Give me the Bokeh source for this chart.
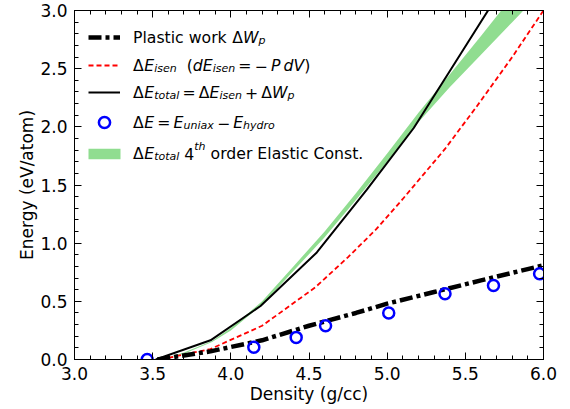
from bokeh.plotting import figure
from bokeh.models import (Range1d, LinearAxis, SingleIntervalTicker, PrintfTickFormatter,
                          Legend, LegendItem, Label, CustomLabelingPolicy)
from bokeh.embed import file_html
from bokeh.resources import INLINE

# ---------------- data ----------------
circle_density = [3.465, 4.147, 4.418, 4.606, 5.01, 5.37, 5.68, 5.975]
circle_energy = [0.0, 0.106, 0.19, 0.29, 0.40, 0.565, 0.636, 0.737]

plastic_density = [3.53, 3.87, 4.2, 4.5, 4.8, 5.0, 5.3, 5.6, 6.0]
plastic_energy = [0.0, 0.07, 0.165, 0.29, 0.40, 0.48, 0.58, 0.68, 0.81]

isen_density = [3.55, 3.87, 4.2, 4.54, 4.75, 4.93, 5.1, 5.37, 5.57, 5.8, 6.0]
isen_energy = [0.0, 0.09, 0.29, 0.62, 0.88, 1.12, 1.38, 1.81, 2.17, 2.6, 3.0]

total_density = [3.52, 3.87, 4.19, 4.55, 4.87, 5.17, 5.41, 5.65]
total_energy = [0.0, 0.165, 0.46, 0.92, 1.46, 1.99, 2.5, 3.01]

elastic_density = [3.55, 3.7, 3.88, 4.0, 4.2, 4.4, 4.6, 4.8, 5.0, 5.2, 5.4, 5.6, 5.8, 6.0]
elastic_high = [0.0, 0.06, 0.16, 0.27, 0.50, 0.80, 1.10, 1.43, 1.77, 2.12, 2.45, 2.78, 3.12, 3.45]
elastic_low = [0.0, 0.05, 0.15, 0.25, 0.47, 0.76, 1.05, 1.37, 1.70, 2.04, 2.34, 2.62, 2.90, 3.18]

x_label = "Density (g/cc)"
y_label = "Energy (eV/atom)"

# ---------------- layout ----------------
FONT = "DejaVu Sans"
W, H = 570, 409
FL, FT, FR, FB = 74, 10, 543, 359

p = figure(width=W, height=H, output_backend="svg", toolbar_location=None,
           x_range=Range1d(3.0, 6.0), y_range=Range1d(0.0, 3.0),
           min_border_left=FL, min_border_top=FT, min_border_right=W - FR,
           min_border_bottom=H - FB,
           x_axis_label=x_label, y_axis_label=y_label)
p.xgrid.visible = False
p.ygrid.visible = False
p.outline_line_color = "black"
p.background_fill_color = "white"
p.border_fill_color = "white"

hide_all = CustomLabelingPolicy(code="for (const i of [...indices]) { indices.unset(i) }\nreturn indices")


def style_axis(ax, labels=True):
    ax.ticker = SingleIntervalTicker(interval=0.5, num_minor_ticks=5)
    ax.major_tick_in = 7
    ax.major_tick_out = 0
    ax.minor_tick_in = 4
    ax.minor_tick_out = 0
    ax.axis_line_color = "black"
    ax.major_tick_line_color = "black"
    ax.minor_tick_line_color = "black"
    if labels:
        ax.formatter = PrintfTickFormatter(format="%.1f")
        ax.major_label_text_font = FONT
        ax.major_label_text_font_size = "17px"
        ax.major_label_text_color = "black"
        ax.major_label_standoff = 7
        ax.axis_label_text_font = FONT
        ax.axis_label_text_font_size = "17px"
        ax.axis_label_text_font_style = "normal"
        ax.axis_label_text_color = "black"
        ax.axis_label_standoff = 0
    else:
        ax.major_label_text_font_size = "0px"
        ax.major_label_standoff = 0
        ax.major_label_policy = hide_all


style_axis(p.xaxis[0])
style_axis(p.yaxis[0])
p.xaxis[0].axis_label_standoff = 1
top = LinearAxis()
right = LinearAxis()
style_axis(top, labels=False)
style_axis(right, labels=False)
p.add_layout(top, "above")
p.add_layout(right, "right")

# ---------------- data renderers ----------------
band = p.varea(x=elastic_density, y1=elastic_low, y2=elastic_high,
               fill_color="#90dd90", fill_alpha=1.0)
isen = p.line(isen_density, isen_energy, line_color="#ff0000", line_width=1.8,
              line_dash="5 3")
total = p.line(total_density, total_energy, line_color="black", line_width=2)
plastic = p.line(plastic_density, plastic_energy, line_color="black", line_width=4.5,
                 line_dash="13 4 4 4")
circles = p.scatter(circle_density, circle_energy, marker="circle", size=11,
                    fill_color=None, line_color="#0000ff", line_width=2.5)

# ---------------- legend texts (math-like) ----------------
W_EM = {" ": .318, "(": .390, ")": .390, "+": .838, ".": .318, "/": .337, "=": .838,
        "\u2212": .838, "\u0394": .684, "A": .684, "C": .698, "E": .632, "P": .603,
        "V": .684, "W": .989, "a": .613, "c": .550, "d": .635, "e": .615, "h": .634,
        "i": .278, "k": .579, "l": .278, "n": .634, "o": .612, "p": .635, "r": .411,
        "s": .521, "t": .392, "u": .634, "w": .818, "x": .592, "y": .592}
for dgt in "0123456789":
    W_EM[dgt] = .636

FS = 15.7
OP = 0.2
TX = 59  # text start, px from frame left


def text_width(t, size):
    return sum(W_EM.get(ch, 0.6) for ch in t) * size


def key(renderer, first, vx, vy, gw, gh, lh):
    lg = Legend(items=[LegendItem(label=first, renderers=[renderer])],
                location=(vx, vy), glyph_width=gw, glyph_height=gh,
                padding=0, margin=0, spacing=0, label_standoff=TX - vx - gw,
                label_height=lh, label_text_font=FONT, label_text_baseline="alphabetic",
                label_text_font_size=f"{FS}px", label_text_color="black",
                border_line_color=None, background_fill_alpha=0)
    p.add_layout(lg)


def draw_row(segs, x0, base):
    x = x0
    for seg in segs:
        kind = seg[1]
        if kind == "gap":
            x += seg[2] * FS
            continue
        t = seg[0]
        size = FS * 0.7 if kind in ("sub", "sup") else FS
        style = "normal" if kind == "r" else "italic"
        dy = -3 if kind == "sub" else (7.5 if kind == "sup" else 0)
        p.add_layout(Label(x=3.0, y=0.0, x_offset=x, y_offset=base + dy, text=t,
                           text_font=FONT, text_font_size=f"{size:.2f}px",
                           text_font_style=style, text_baseline="alphabetic",
                           text_align="left", text_color="black"))
        x += text_width(t, size)


D = "\u0394"
M = "\u2212"
# (renderer, legend-key geometry (vx, vy, gw, gh, lh), first text, remaining segments, baseline)
rows = [
    (plastic, (14, 307, 32, 20, 30), "Plastic work",
     [("", "gap", .318), (D, "r"), ("W", "i"), ("p", "sub")], 322),
    (isen, (14, 279, 32, 20, 30), D,
     [("E", "i"), ("isen", "sub"), ("", "gap", .636), ("(", "r"), ("dE", "i"),
      ("isen", "sub"), ("", "gap", OP), ("=", "r"), ("", "gap", OP), (M, "r"),
      ("", "gap", OP), ("P", "i"), ("", "gap", .2), ("dV", "i"), (")", "r")], 294),
    (total, (14, 252, 32, 20, 30), D,
     [("E", "i"), ("total", "sub"), ("", "gap", OP), ("=", "r"), ("", "gap", OP),
      (D, "r"), ("E", "i"), ("isen", "sub"), ("", "gap", OP), ("+", "r"), ("", "gap", OP),
      (D, "r"), ("W", "i"), ("p", "sub")], 267),
    (circles, (14, 218, 32, 28, 38), D,
     [("E", "i"), ("", "gap", OP), ("=", "r"), ("", "gap", OP), ("E", "i"),
      ("uniax", "sub"), ("", "gap", OP), (M, "r"), ("", "gap", OP), ("E", "i"),
      ("hydro", "sub")], 237),
    (band, (10, 194, 40, 13, 24), D,
     [("E", "i"), ("total", "sub"), ("", "gap", .318), ("4", "r"), ("th", "sup"),
      ("", "gap", .318), ("order Elastic Const.", "r")], 206),
]
for rend, geo, first, segs, base in rows:
    key(rend, first, *geo)
    draw_row(segs, TX + text_width(first, FS), base)

open("out.html", "w").write(file_html(p, INLINE))
